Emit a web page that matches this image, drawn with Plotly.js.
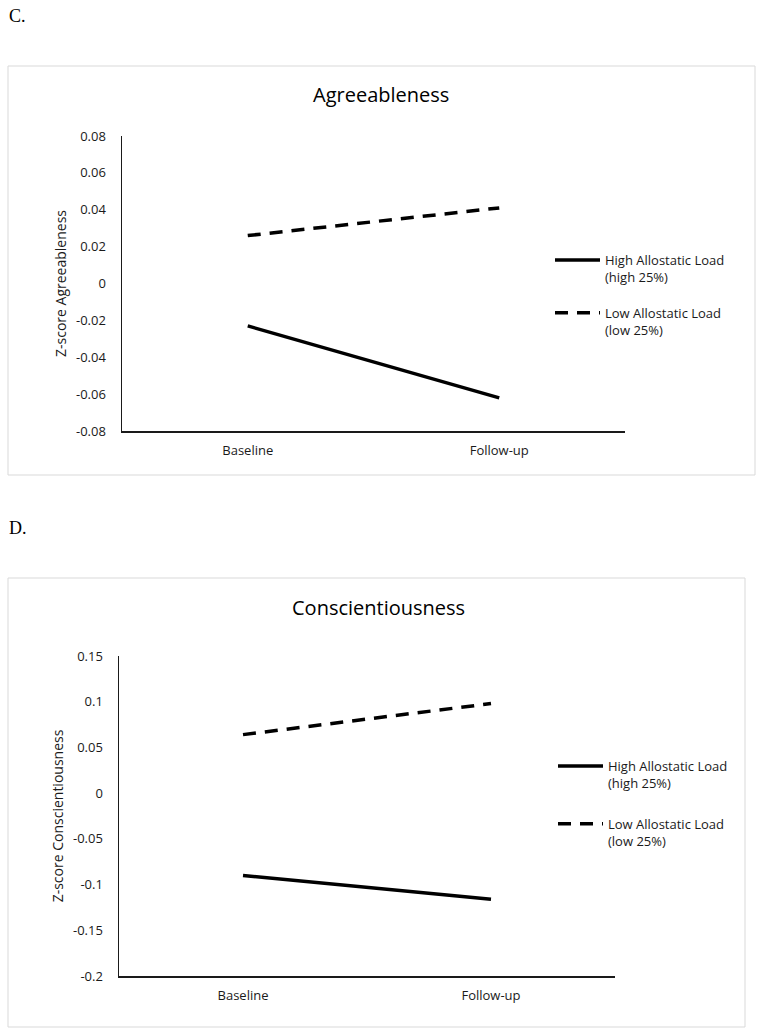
<!DOCTYPE html>
<html>
<head>
<meta charset="utf-8">
<script src="https://cdn.plot.ly/plotly-3.0.1.min.js"></script>
<style>
  html, body { margin: 0; padding: 0; background: #fff; }
  #chart { width: 764px; height: 1033px; }
</style>
</head>
<body>
<div id="chart"></div>
<script>
// ---- data ----
const categories = ['Baseline', 'Follow-up'];
const agreeHigh = [-0.023, -0.062];
const agreeLow = [0.026, 0.041];
const conscHigh = [-0.090, -0.116];
const conscLow = [0.064, 0.098];
const agreeTickVals = [-0.08, -0.06, -0.04, -0.02, 0, 0.02, 0.04, 0.06, 0.08];
const agreeTickText = ['-0.08', '-0.06', '-0.04', '-0.02', '0', '0.02', '0.04', '0.06', '0.08'];
const conscTickVals = [-0.2, -0.15, -0.1, -0.05, 0, 0.05, 0.1, 0.15];
const conscTickText = ['-0.2', '-0.15', '-0.1', '-0.05', '0', '0.05', '0.1', '0.15'];
const seriesNames = ['High Allostatic Load<br>(high 25%)', 'Low Allostatic Load<br>(low 25%)'];
const panelTitles = ['Agreeableness', 'Conscientiousness'];
const yTitles = ['Z-score Agreeableness', 'Z-score Conscientiousness'];
const panelLabels = ['C.', 'D.'];

const W = 764, H = 1033;
const FONT = 'Open Sans, sans-serif';
const px = v => v / W;
const py = v => 1 - v / H;

const solid = { color: '#000', width: 3.5, dash: 'solid' };
const dashed = { color: '#000', width: 3.5, dash: '13px,9px' };

const traces = [
  { x: categories, y: agreeHigh, name: seriesNames[0], mode: 'lines', line: solid, xaxis: 'x', yaxis: 'y', legend: 'legend', legendgroup: 'highC' },
  { x: categories, y: agreeLow, name: seriesNames[1], mode: 'lines', line: dashed, xaxis: 'x', yaxis: 'y', legend: 'legend', legendgroup: 'lowC' },
  { x: categories, y: conscHigh, name: seriesNames[0], mode: 'lines', line: solid, xaxis: 'x2', yaxis: 'y2', legend: 'legend2', legendgroup: 'highD' },
  { x: categories, y: conscLow, name: seriesNames[1], mode: 'lines', line: dashed, xaxis: 'x2', yaxis: 'y2', legend: 'legend2', legendgroup: 'lowD' }
];

const tickFont = { family: FONT, size: 13, color: '#1a1a1a' };

function xAxis(domain, anchor) {
  return {
    domain: domain, anchor: anchor, type: 'category', range: [-0.5, 1.5],
    showline: true, linecolor: '#1a1a1a', linewidth: 1.5,
    showgrid: false, zeroline: false,
    ticks: 'outside', ticklen: 7, tickcolor: 'rgba(0,0,0,0)',
    tickfont: tickFont, fixedrange: true
  };
}
function yAxis(domain, anchor, range, tv, tt, title) {
  return {
    domain: domain, anchor: anchor, range: range,
    tickmode: 'array', tickvals: tv, ticktext: tt,
    showline: true, linecolor: '#1a1a1a', linewidth: 1.5,
    showgrid: false, zeroline: false,
    ticks: 'outside', ticklen: 12, tickcolor: 'rgba(0,0,0,0)',
    tickfont: tickFont, fixedrange: true,
    title: { text: title, font: { family: FONT, size: 14, color: '#1a1a1a' }, standoff: 6 }
  };
}

const legendCommon = {
  xanchor: 'left', yanchor: 'top', bgcolor: 'rgba(0,0,0,0)',
  font: { family: FONT, size: 13, color: '#1a1a1a' },
  valign: 'top', traceorder: 'grouped', itemwidth: 45
};

const layout = {
  width: W, height: H,
  margin: { l: 0, r: 0, t: 0, b: 0 },
  paper_bgcolor: '#fff', plot_bgcolor: 'rgba(0,0,0,0)',
  showlegend: true,
  xaxis: xAxis([px(122), px(625)], 'y'),
  yaxis: yAxis([py(431), py(136)], 'x', [-0.08, 0.08], agreeTickVals, agreeTickText, yTitles[0]),
  xaxis2: xAxis([px(119), px(615)], 'y2'),
  yaxis2: yAxis([py(976), py(656)], 'x2', [-0.2, 0.15], conscTickVals, conscTickText, yTitles[1]),
  legend: Object.assign({ x: px(550), y: py(245), tracegroupgap: 16 }, legendCommon),
  legend2: Object.assign({ x: px(553), y: py(751), tracegroupgap: 21 }, legendCommon),
  shapes: [
    { type: 'rect', xref: 'paper', yref: 'paper', x0: px(8), x1: px(755), y0: py(475), y1: py(66), line: { color: '#d9d9d9', width: 1 }, fillcolor: 'rgba(0,0,0,0)', layer: 'below' },
    { type: 'rect', xref: 'paper', yref: 'paper', x0: px(8), x1: px(745), y0: py(1027), y1: py(578), line: { color: '#d9d9d9', width: 1 }, fillcolor: 'rgba(0,0,0,0)', layer: 'below' }
  ],
  annotations: [
    { text: panelTitles[0], xref: 'paper', yref: 'paper', x: px(381), y: py(94), xanchor: 'center', yanchor: 'middle', showarrow: false, font: { family: FONT, size: 20, color: '#000' } },
    { text: panelTitles[1], xref: 'paper', yref: 'paper', x: px(378), y: py(607), xanchor: 'center', yanchor: 'middle', showarrow: false, font: { family: FONT, size: 20, color: '#000' } },
    { text: panelLabels[0], xref: 'paper', yref: 'paper', x: px(7), y: py(16), xanchor: 'left', yanchor: 'middle', showarrow: false, font: { family: 'Liberation Serif, serif', size: 18, color: '#000' } },
    { text: panelLabels[1], xref: 'paper', yref: 'paper', x: px(7), y: py(528), xanchor: 'left', yanchor: 'middle', showarrow: false, font: { family: 'Liberation Serif, serif', size: 18, color: '#000' } }
  ]
};

Plotly.newPlot('chart', traces, layout, { staticPlot: true, displayModeBar: false });
</script>
</body>
</html>
